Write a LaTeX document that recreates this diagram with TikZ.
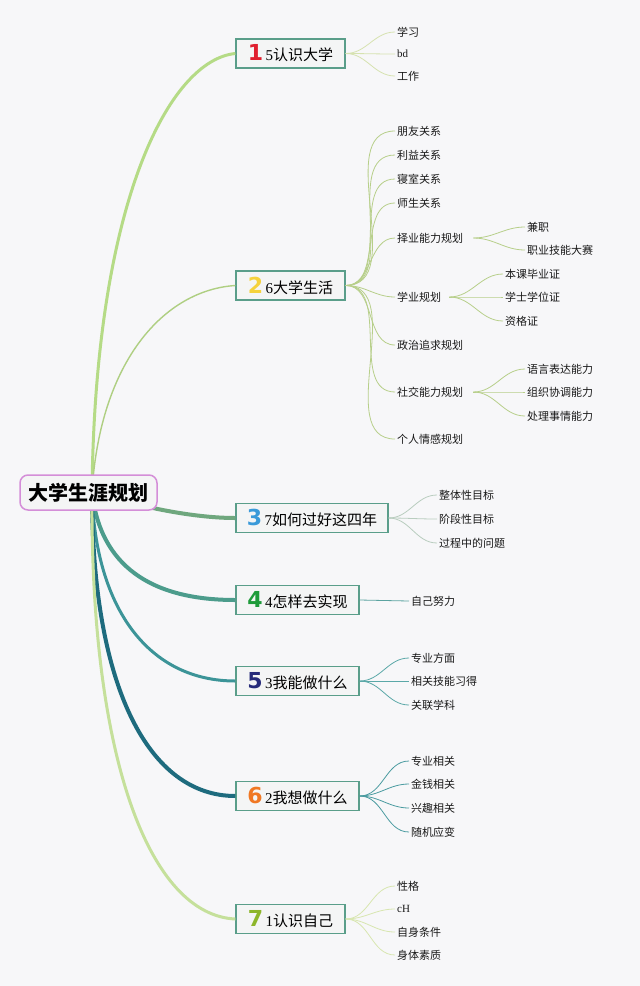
\documentclass[tikz,border=0pt]{standalone}
\usepackage{fontspec}
\newfontfamily\cjk{Noto Sans CJK SC}
\newfontfamily\numf{DejaVu Sans}
\newfontfamily\latf{Liberation Serif}
\definecolor{bg}{HTML}{F7F7F9}
\definecolor{boxline}{HTML}{5A9E8A}
\definecolor{boxfill}{HTML}{F4F5F5}
\definecolor{rootline}{HTML}{D48ED8}
\definecolor{cA}{HTML}{B5DB86}
\definecolor{cB}{HTML}{AFCF82}
\definecolor{cC}{HTML}{6FA77E}
\definecolor{cD}{HTML}{4C9C8C}
\definecolor{cE}{HTML}{3C9498}
\definecolor{cF}{HTML}{1E6B7E}
\definecolor{cG}{HTML}{C5E09B}
\definecolor{lA}{HTML}{D6E2B0}
\definecolor{lB}{HTML}{B7CF8A}
\definecolor{lC}{HTML}{B9CDBF}
\definecolor{lD}{HTML}{5BA3A0}
\definecolor{lE}{HTML}{5BA8A8}
\definecolor{lF}{HTML}{4A9BA0}
\definecolor{lG}{HTML}{D8E6B0}
\definecolor{n1}{HTML}{E0202F}
\definecolor{n2}{HTML}{F5D23C}
\definecolor{n3}{HTML}{3A9AD9}
\definecolor{n4}{HTML}{1E9B3A}
\definecolor{n5}{HTML}{262B7A}
\definecolor{n6}{HTML}{F07823}
\definecolor{n7}{HTML}{8DB62B}
\tikzset{
  rootbox/.style={draw=rootline, line width=1.5pt, fill=boxfill, rounded corners=8pt,
    minimum width=137pt, minimum height=35pt, inner sep=0pt,
    font=\cjk\fontsize{20}{22}\selectfont\bfseries},
  branchbox/.style={draw=boxline, line width=1.3pt, fill=boxfill,
    minimum height=29pt, inner sep=0pt, font=\cjk\fontsize{15}{17}\selectfont},
  leaf/.style={anchor=west, inner sep=2pt, font=\cjk\fontsize{11}{13}\selectfont, text=black!90},
  lk/.style={line width=0.8pt},
}
\newcommand{\bignum}[2]{{\numf\bfseries\fontsize{22}{22}\selectfont\color{#1}#2}}
\newcommand{\dg}[1]{{\latf #1}}
\begin{document}
\begin{tikzpicture}[x=1pt,y=-1pt]
\useasboundingbox (0,0) rectangle (640,986);
\fill[bg] (0,0) rectangle (640,986);

% branch boxes
\node[branchbox, minimum width=109pt] (b1) at (290.5,53.5) {\bignum{n1}{1}\,\dg{5}认识大学};
\node[branchbox, minimum width=109pt] (b2) at (290.5,285.5) {\bignum{n2}{2}\,\dg{6}大学生活};
\node[branchbox, minimum width=152pt] (b3) at (312,518) {\bignum{n3}{3}\,\dg{7}如何过好这四年};
\node[branchbox, minimum width=123pt] (b4) at (297.5,600) {\bignum{n4}{4}\,\dg{4}怎样去实现};
\node[branchbox, minimum width=123pt] (b5) at (297.5,681) {\bignum{n5}{5}\,\dg{3}我能做什么};
\node[branchbox, minimum width=123pt] (b6) at (297.5,796) {\bignum{n6}{6}\,\dg{2}我想做什么};
\node[branchbox, minimum width=109pt] (b7) at (290.5,919) {\bignum{n7}{7}\,\dg{1}认识自己};

\coordinate (rc) at (92,492);
% main connectors (drawn under root)
\draw[cA, line width=3pt] (rc) .. controls (95,200) and (170,60) .. (b1.west);
\draw[cB, line width=1.4pt] (rc) .. controls (100,360) and (165,290) .. (b2.west);
\draw[cC, line width=4pt] (rc) .. controls (150,510) and (200,518) .. (b3.west);
\draw[cD, line width=4pt] (rc) .. controls (100,565) and (150,600) .. (b4.west);
\draw[cE, line width=3pt] (rc) .. controls (95,610) and (150,681) .. (b5.west);
\draw[cF, line width=4pt] (rc) .. controls (92,690) and (150,796) .. (b6.west);
\draw[cG, line width=3pt] (rc) .. controls (90,760) and (150,915) .. (b7.west);

\node[rootbox] (root) at (88.5,492.5) {大学生涯规划};

% leaves branch 1
\node[leaf] (l11) at (395,32) {学习};
\node[leaf] (l12) at (395,54) {\latf bd};
\node[leaf] (l13) at (395,76) {工作};
\foreach \l in {l11,l12,l13} \draw[lA,lk] (b1.east) to[out=0,in=180] (\l.west);

% branch 2
\node[leaf] (l21) at (395,131) {朋友关系};
\node[leaf] (l22) at (395,155) {利益关系};
\node[leaf] (l23) at (395,179) {寝室关系};
\node[leaf] (l24) at (395,203) {师生关系};
\node[leaf] (l25) at (395,238) {择业能力规划};
\node[leaf] (l26) at (395,297) {学业规划};
\node[leaf] (l27) at (395,345) {政治追求规划};
\node[leaf] (l28) at (395,392) {社交能力规划};
\node[leaf] (l29) at (395,439) {个人情感规划};
\foreach \l in {l21,l22,l23,l24,l25,l26,l27,l28,l29} \draw[lB,lk] (b2.east) to[out=0,in=180] (\l.west);

\node[leaf] (s1) at (525,227) {兼职};
\node[leaf] (s2) at (525,250) {职业技能大赛};
\foreach \l in {s1,s2} \draw[lB,lk] ([xshift=8pt]l25.east) to[out=0,in=180] (\l.west);
\node[leaf] (s3) at (503,274) {本课毕业证};
\node[leaf] (s4) at (503,297) {学士学位证};
\node[leaf] (s5) at (503,321) {资格证};
\foreach \l in {s3,s4,s5} \draw[lB,lk] ([xshift=6pt]l26.east) to[out=0,in=180] (\l.west);
\node[leaf] (s6) at (525,369) {语言表达能力};
\node[leaf] (s7) at (525,392) {组织协调能力};
\node[leaf] (s8) at (525,416) {处理事情能力};
\foreach \l in {s6,s7,s8} \draw[lB,lk] ([xshift=8pt]l28.east) to[out=0,in=180] (\l.west);

% branch 3
\node[leaf] (l31) at (437,495) {整体性目标};
\node[leaf] (l32) at (437,519) {阶段性目标};
\node[leaf] (l33) at (437,543) {过程中的问题};
\foreach \l in {l31,l32,l33} \draw[lC,lk] (b3.east) to[out=0,in=180] (\l.west);

% branch 4
\node[leaf] (l41) at (409,601) {自己努力};
\draw[lD,lk] (b4.east) -- (l41.west);

% branch 5
\node[leaf] (l51) at (409,658) {专业方面};
\node[leaf] (l52) at (409,681) {相关技能习得};
\node[leaf] (l53) at (409,705) {关联学科};
\foreach \l in {l51,l52,l53} \draw[lE,lk] (b5.east) to[out=0,in=180] (\l.west);

% branch 6
\node[leaf] (l61) at (409,761) {专业相关};
\node[leaf] (l62) at (409,784) {金钱相关};
\node[leaf] (l63) at (409,808) {兴趣相关};
\node[leaf] (l64) at (409,832) {随机应变};
\foreach \l in {l61,l62,l63,l64} \draw[lF,lk] (b6.east) to[out=0,in=180] (\l.west);

% branch 7
\node[leaf] (l71) at (395,886) {性格};
\node[leaf] (l72) at (395,909) {\latf cH};
\node[leaf] (l73) at (395,932) {自身条件};
\node[leaf] (l74) at (395,955) {身体素质};
\foreach \l in {l71,l72,l73,l74} \draw[lG,lk] (b7.east) to[out=0,in=180] (\l.west);
\end{tikzpicture}
\end{document}
